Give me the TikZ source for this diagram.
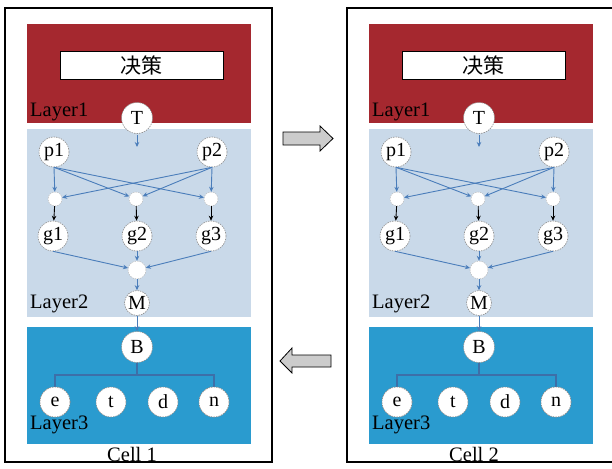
\documentclass[tikz,border=0pt]{standalone}
\usepackage{fontspec}
\setmainfont{Liberation Serif}
\newfontfamily\cjk{Noto Sans CJK SC}
\usetikzlibrary{arrows.meta}

\definecolor{layerred}{HTML}{A5282F}
\definecolor{layerlight}{HTML}{C9D9E9}
\definecolor{layerdark}{HTML}{2A9BCF}
\definecolor{arrowblue}{HTML}{4A7DBA}
\definecolor{treeblue}{HTML}{3D6FA8}

\tikzset{
  circ/.style={circle, fill=white, draw=gray!90, dash pattern=on 1.5pt off 1pt, line width=0.6pt,
    minimum size=30pt, inner sep=0pt, font=\fontsize{20}{20}\selectfont},
  smallc/.style={circle, fill=white, draw=gray!60, dash pattern=on 1.5pt off 1pt, line width=0.4pt,
    minimum size=14pt, inner sep=0pt},
  barrow/.style={-{Stealth[length=5pt,width=4.5pt]}, arrowblue, line width=0.9pt},
  karrow/.style={-{Stealth[length=5pt,width=4.5pt]}, black, line width=0.9pt},
  treeline/.style={treeblue, line width=1.1pt},
  layerlbl/.style={anchor=base west, inner sep=0pt, font=\fontsize{20.5}{20.5}\selectfont},
  celllbl/.style={anchor=base, inner sep=0pt, font=\fontsize{20.5}{20.5}\selectfont},
  cellbox/.style={draw=black, line width=1.8pt},
  decbox/.style={draw=black, fill=white, line width=1pt, minimum width=163pt,
    minimum height=28pt, inner sep=0pt, font=\cjk\fontsize{21}{21}\selectfont},
  blockarrow/.style={draw=black, fill=gray!40, line width=0.8pt, line join=miter}
}

\newcommand\drawcell[3]{%
\begin{scope}[xshift=#1pt]
  \fill[layerred] (27,24) rectangle (251,123);
  \fill[layerlight] (27,129) rectangle (251,317);
  \fill[layerdark] (27,327) rectangle (251,444);
  \node[decbox] (#2dec) at (141.5,66) {决策};
  \node[layerlbl] (#2L1) at (30,116) {Layer1};
  \node[layerlbl] (#2L2) at (30,308) {Layer2};
  \node[layerlbl] (#2L3) at (30,429) {Layer3};
  % nodes
  \node[circ, minimum size=31pt] (#2T) at (137,118) {T};
  \coordinate (#2Tend) at (137,147);
  \node[circ] (#2p1) at (54,152) {p1};
  \node[circ] (#2p2) at (212,152) {p2};
  \node[smallc] (#2s1) at (55,199) {};
  \node[smallc] (#2s2) at (136,199) {};
  \node[smallc] (#2s3) at (211,199) {};
  \node[circ] (#2g1) at (53,236) {g1};
  \node[circ] (#2g2) at (137,236) {g2};
  \node[circ] (#2g3) at (211,236) {g3};
  \node[smallc, minimum size=18pt] (#2c) at (137,270) {};
  \node[circ, minimum size=25pt] (#2M) at (137,303) {M};
  \node[circ, minimum size=31pt] (#2B) at (137,347) {B};
  \node[circ] (#2e) at (55,402) {e};
  \node[circ] (#2t) at (111,402) {t};
  \node[circ] (#2d) at (163,402) {d};
  \node[circ] (#2n) at (214,402) {n};
  \coordinate (#2tl) at (55,375);
  \coordinate (#2tr) at (214,375);
  % connectors
  \draw[barrow, shorten <=1.5pt] (#2T) -- (#2Tend);
  \draw[barrow] (#2p1.south) -- (#2s1);
  \draw[barrow] (#2p1.south) -- (#2s2);
  \draw[barrow] (#2p1.south) -- (#2s3);
  \draw[barrow] (#2p2.south) -- (#2s1);
  \draw[barrow] (#2p2.south) -- (#2s2);
  \draw[barrow] (#2p2.south) -- (#2s3);
  \draw[karrow] (#2s1) -- (#2g1);
  \draw[karrow] (#2s2) -- (#2g2);
  \draw[karrow] (#2s3) -- (#2g3);
  \draw[barrow] (#2g1.south) -- (#2c);
  \draw[barrow] (#2g2.south) -- (#2c);
  \draw[barrow] (#2g3.south) -- (#2c);
  \draw[barrow] (#2c) -- (#2M);
  \draw[barrow] (#2M) -- (#2B);
  \draw[treeline] (#2B.south) -- (#2B.south |- #2tl);
  \draw[treeline] (#2e.north) -- (#2tl) -- (#2tr) -- (#2n.north);
  % redraw circles over lines
  \node[circ] at (#2e) {e};
  \node[circ] at (#2n) {n};
  \draw[cellbox] (5,8) rectangle (272,462);
  \node[celllbl] (#2cell) at (132,461) {#3};
\end{scope}}

\begin{document}
\begin{tikzpicture}[x=1pt,y=-1pt]
  \fill[white] (0,0) rectangle (612,468);
  \clip (0,0) rectangle (612,468);
  \useasboundingbox (0,0) rectangle (612,468);
  \drawcell{0}{a}{Cell 1}
  \drawcell{342}{b}{Cell 2}
  % block arrows between cells
  \draw[blockarrow] (283,132) -- (320,132) -- (320,126) -- (333,138.5)
    -- (320,151) -- (320,145) -- (283,145) -- cycle;
  \draw[blockarrow] (331,355) -- (292,355) -- (292,348) -- (280,361)
    -- (292,373) -- (292,367) -- (331,367) -- cycle;
\end{tikzpicture}
\end{document}
